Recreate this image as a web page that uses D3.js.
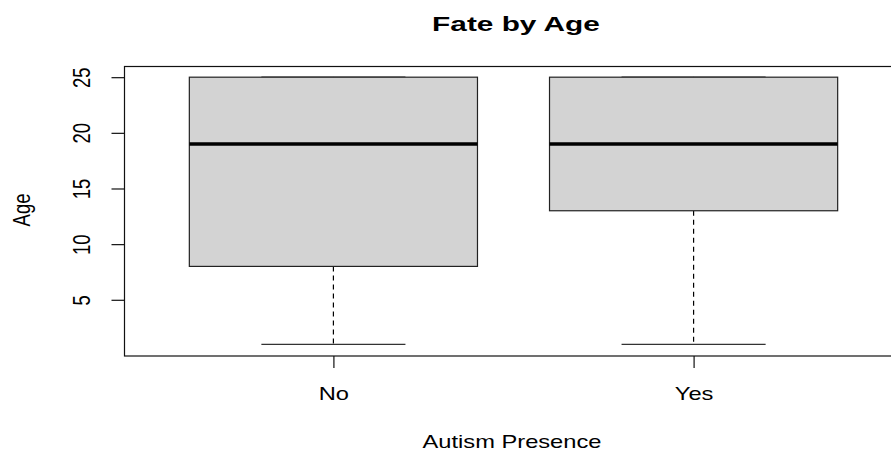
<!DOCTYPE html>
<html>
<head>
<meta charset="utf-8">
<script src="https://cdn.jsdelivr.net/npm/d3@7"></script>
<style>
  body { margin: 0; background: #fff; }
  text { font-family: "Liberation Sans", Arial, sans-serif; fill: #000; }
</style>
</head>
<body>
<div id="chart"></div>
<script>
var width = 891
var height = 452

// data
const groups = ["No", "Yes"];
const mins = [1, 1];
const q1s = [8, 13];
const medians = [19, 19];
const q3s = [25, 25];
const maxs = [25, 25];
const yTicks = [5, 10, 15, 20, 25];

// the reference text is drawn wider than it is tall
const fs = 18.5, sx = 1.28;

const svg = d3.select("#chart")
    .append("svg")
    .attr("width", width)
    .attr("height", height);

// R style extents: xlim 0.5..2.5 and ylim 1..25, each widened by 4%
const x = d3.scaleLinear().domain([0.42, 2.58]).range([124.5, 902.5]);
const y = d3.scaleLinear().domain([0.04, 25.96]).range([355, 66.5]);

const g = svg.append("g");

groups.forEach(function(name, i) {
    const c = i + 1;
    // dashed whiskers
    g.append("line")
        .attr("x1", x(c)).attr("x2", x(c))
        .attr("y1", y(q1s[i])).attr("y2", y(mins[i]))
        .attr("stroke", "#000").attr("stroke-width", 1.2)
        .attr("stroke-dasharray", "5,4");
    g.append("line")
        .attr("x1", x(c)).attr("x2", x(c))
        .attr("y1", y(q3s[i])).attr("y2", y(maxs[i]))
        .attr("stroke", "#000").attr("stroke-width", 1.2)
        .attr("stroke-dasharray", "5,4");
    // staples
    g.append("line")
        .attr("x1", x(c - 0.2)).attr("x2", x(c + 0.2))
        .attr("y1", y(mins[i])).attr("y2", y(mins[i]))
        .attr("stroke", "#333").attr("stroke-width", 1.2);
    g.append("line")
        .attr("x1", x(c - 0.2)).attr("x2", x(c + 0.2))
        .attr("y1", y(maxs[i])).attr("y2", y(maxs[i]))
        .attr("stroke", "#333").attr("stroke-width", 1.2);
    // box
    g.append("rect")
        .attr("x", x(c - 0.4))
        .attr("y", y(q3s[i]))
        .attr("width", x(c + 0.4) - x(c - 0.4))
        .attr("height", y(q1s[i]) - y(q3s[i]))
        .attr("fill", "#d3d3d3")
        .attr("stroke", "#222").attr("stroke-width", 1.2);
    // median
    g.append("line")
        .attr("x1", x(c - 0.4)).attr("x2", x(c + 0.4))
        .attr("y1", y(medians[i])).attr("y2", y(medians[i]))
        .attr("stroke", "#000").attr("stroke-width", 3.5);
});

// plot frame
svg.append("rect")
    .attr("x", 124.5).attr("y", 66.5)
    .attr("width", 902.5 - 124.5).attr("height", 356 - 66.5)
    .attr("fill", "none")
    .attr("stroke", "#111").attr("stroke-width", 1.2);

// y axis
const yAxis = svg.append("g")
    .attr("transform", "translate(124.5,0)")
    .call(d3.axisLeft(y).tickValues(yTicks).tickSize(13).tickFormat(d3.format("d")));
yAxis.select(".domain").remove();
yAxis.selectAll("line").attr("stroke", "#111").attr("stroke-width", 1.2);
yAxis.selectAll(".tick text")
    .attr("font-size", fs)
    .attr("text-anchor", "middle")
    .attr("x", 0).attr("y", 0).attr("dy", 0)
    .attr("transform", "translate(-35,0) scale(" + sx + ",1) rotate(-90)");

// x axis
const xAxis = svg.append("g")
    .attr("transform", "translate(0,356)")
    .call(d3.axisBottom(x).tickValues([1, 2]).tickSize(12).tickFormat((d, i) => groups[i]));
xAxis.select(".domain").remove();
xAxis.selectAll("line").attr("stroke", "#111").attr("stroke-width", 1.2);
xAxis.selectAll(".tick text")
    .attr("font-size", fs)
    .attr("x", 0).attr("y", 0).attr("dy", 0)
    .attr("transform", "translate(0,44) scale(" + sx + ",1)");

// title and axis titles
svg.append("text")
    .attr("transform", "translate(516,31) scale(1.42,1)")
    .attr("text-anchor", "middle")
    .attr("font-size", 21).attr("font-weight", "bold")
    .text("Fate by Age");

svg.append("text")
    .attr("transform", "translate(512,448) scale(" + sx + ",1)")
    .attr("text-anchor", "middle")
    .attr("font-size", fs)
    .text("Autism Presence");

svg.append("text")
    .attr("transform", "translate(30,210) scale(" + sx + ",1) rotate(-90)")
    .attr("text-anchor", "middle")
    .attr("font-size", fs)
    .text("Age");
</script>
</body>
</html>
